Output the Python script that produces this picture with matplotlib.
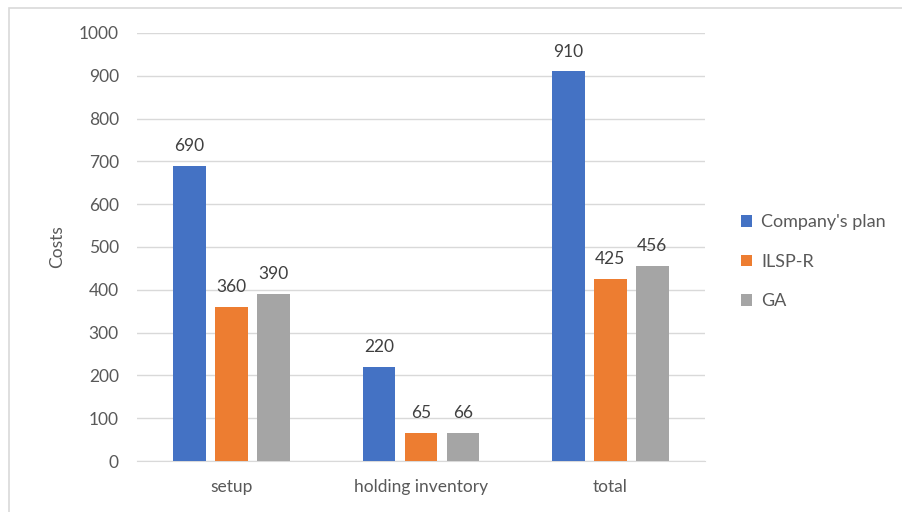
import numpy as np
import matplotlib.pyplot as plt
from matplotlib.patches import Rectangle

plt.rcParams["font.family"] = ["Lato", "DejaVu Sans"]

categories = ["setup", "holding inventory", "total"]
series = ["Company's plan", "ILSP-R", "GA"]
company = [690, 220, 910]
ilsp = [360, 65, 425]
ga = [390, 66, 456]
colors = ["#4472C4", "#ED7D31", "#A5A5A5"]

fs = 12.5

fig = plt.figure(figsize=(9.03, 5.12), dpi=100)
ax = fig.add_axes([0.1517, 0.0996, 0.629, 0.836])

x = np.arange(len(categories))
width = 0.172
step = 0.222
for i, (vals, name) in enumerate(zip([company, ilsp, ga], series)):
    bars = ax.bar(x + (i - 1) * step, vals, width, color=colors[i], label=name, zorder=3)
    for b, v in zip(bars, vals):
        ax.text(b.get_x() + b.get_width() / 2, v + 28, str(v), ha="center", va="bottom",
                fontsize=fs, color="#404040")

ax.set_xlim(-0.5, 2.5)
ax.set_ylim(0, 1000)
ax.set_yticks(np.arange(0, 1001, 100))
ax.set_xticks(x)
ax.set_xticklabels(categories)
ax.grid(axis="y", color="#D9D9D9", linewidth=1, zorder=0)
for s in ["top", "right", "left"]:
    ax.spines[s].set_visible(False)
ax.spines["bottom"].set_color("#D9D9D9")
ax.tick_params(axis="both", length=0, labelsize=fs, labelcolor="#595959")
ax.tick_params(axis="y", pad=13)
ax.tick_params(axis="x", pad=13)
ax.set_ylabel("Costs", fontsize=fs, color="#595959", labelpad=10)

ax.legend(loc="center left", bbox_to_anchor=(1.035, 0.465), frameon=False, fontsize=fs + 0.5,
          handlelength=0.6, handleheight=0.6, handletextpad=0.5, labelspacing=1.3,
          labelcolor="#595959")

# light frame around the chart
fig.patches.append(Rectangle((9 / 903, -0.05), 1.05, 1 - 8 / 512 + 0.05,
                             transform=fig.transFigure, fill=False,
                             edgecolor="#D9D9D9", linewidth=1.2))

fig.savefig("out.png", dpi=100)
